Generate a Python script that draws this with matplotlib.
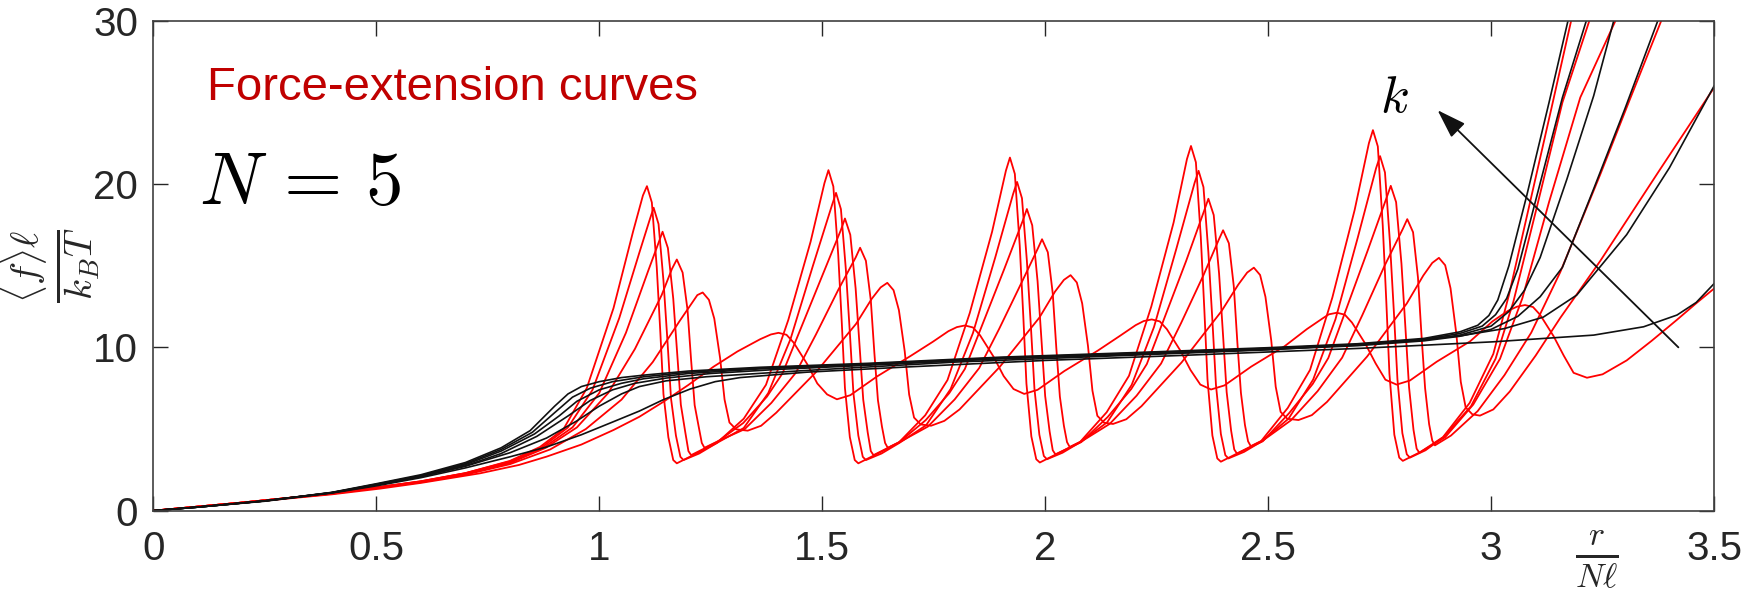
import numpy as np
import matplotlib
matplotlib.use('Agg')
import matplotlib.pyplot as plt

plt.rcParams['font.family'] = ['Liberation Sans', 'DejaVu Sans']
plt.rcParams['mathtext.fontset'] = 'cm'

# axis ticks
x_ticks = [0, 0.5, 1, 1.5, 2, 2.5, 3, 3.5]
x_tick_labels = ['0', '0.5', '1', '1.5', '2', '2.5', '3', '3.5']
y_ticks = [0, 10, 20, 30]
y_tick_labels = ['0', '10', '20', '30']

# red curves (sawtooth), stiffest k first: (r/Nl, <f>l/kBT)
red_k1 = [
    (0, 0), (0.2, 0.5), (0.4, 1.05), (0.6, 1.8), (0.7, 2.3), (0.8, 3.05), (0.867, 3.9), (0.92, 5.0),
    (0.972, 7.5), (1.032, 12.4), (1.076, 17.1), (1.098, 19.3), (1.107, 19.87),
    (1.118, 18.87), (1.129, 14.9), (1.137, 10.93), (1.144, 7.15), (1.155, 4.5), (1.166, 3.1), (1.174, 2.9),
    (1.214, 3.45), (1.264, 4.15), (1.324, 5.63), (1.374, 7.71), (1.424, 11.68), (1.474, 16.47), (1.505, 20.05), (1.514, 20.85),
    (1.525, 19.85), (1.536, 15.64), (1.544, 11.47), (1.551, 7.51), (1.562, 4.5), (1.573, 3.1), (1.581, 2.9),
    (1.621, 3.45), (1.671, 4.15), (1.731, 5.84), (1.781, 8.0), (1.831, 12.11), (1.881, 17.08), (1.912, 20.82), (1.921, 21.62),
    (1.932, 20.62), (1.943, 16.22), (1.951, 11.89), (1.958, 7.78), (1.969, 4.55), (1.980, 3.15), (1.988, 2.95),
    (2.028, 3.5), (2.078, 4.2), (2.138, 6.03), (2.188, 8.26), (2.238, 12.5), (2.288, 17.64), (2.318, 21.53), (2.327, 22.33),
    (2.338, 21.33), (2.349, 16.75), (2.357, 12.28), (2.364, 8.04), (2.375, 4.6), (2.386, 3.2), (2.394, 3.0),
    (2.434, 3.55), (2.484, 4.25), (2.544, 6.29), (2.594, 8.62), (2.644, 13.05), (2.694, 18.41), (2.726, 22.5), (2.735, 23.3),
    (2.746, 22.3), (2.757, 17.48), (2.765, 12.82), (2.772, 8.39), (2.783, 4.65), (2.794, 3.25), (2.802, 3.05),
    (2.842, 3.6), (2.892, 4.5), (2.952, 6.6), (3.005, 9.6), (3.04, 13.2), (3.09, 19.2), (3.135, 24.6), (3.182, 30.3),
]
red_k2 = [
    (0, 0), (0.2, 0.5), (0.4, 1.05), (0.6, 1.8), (0.7, 2.3), (0.8, 3.02), (0.87, 3.85), (0.93, 5.1),
    (0.985, 7.4), (1.045, 11.8), (1.09, 15.8), (1.113, 17.8), (1.122, 18.55),
    (1.133, 17.55), (1.144, 14.1), (1.153, 10.39), (1.161, 6.86), (1.172, 4.6), (1.182, 3.3), (1.189, 3.1),
    (1.224, 3.5), (1.264, 4.15), (1.324, 5.06), (1.379, 7.2), (1.429, 10.51), (1.479, 14.98), (1.522, 18.71), (1.531, 19.46),
    (1.542, 18.46), (1.553, 14.79), (1.562, 10.9), (1.570, 7.2), (1.581, 4.6), (1.591, 3.3), (1.598, 3.1),
    (1.633, 3.5), (1.673, 4.15), (1.733, 5.23), (1.788, 7.45), (1.838, 10.87), (1.888, 15.5), (1.928, 19.38), (1.937, 20.13),
    (1.948, 19.13), (1.959, 15.3), (1.968, 11.27), (1.976, 7.45), (1.987, 4.65), (1.997, 3.35), (2.004, 3.15),
    (2.039, 3.55), (2.079, 4.2), (2.139, 5.41), (2.194, 7.7), (2.244, 11.24), (2.294, 16.02), (2.335, 20.06), (2.344, 20.81),
    (2.355, 19.81), (2.366, 15.82), (2.375, 11.65), (2.383, 7.7), (2.394, 4.7), (2.404, 3.4), (2.411, 3.2),
    (2.446, 3.6), (2.486, 4.25), (2.546, 5.64), (2.601, 8.03), (2.651, 11.72), (2.701, 16.72), (2.742, 20.96), (2.751, 21.71),
    (2.762, 20.71), (2.773, 16.5), (2.782, 12.16), (2.790, 8.03), (2.801, 4.75), (2.811, 3.45), (2.818, 3.25),
    (2.853, 3.7), (2.893, 4.5), (2.955, 6.4), (3.01, 9.3), (3.05, 12.8), (3.10, 18.3), (3.16, 25.0), (3.224, 30.3),
]
red_k3 = [
    (0, 0), (0.2, 0.5), (0.4, 1.05), (0.6, 1.78), (0.7, 2.28), (0.8, 2.97), (0.875, 3.85), (0.94, 5.1),
    (1.0, 7.2), (1.06, 10.9), (1.11, 14.7), (1.133, 16.4), (1.142, 17.08),
    (1.154, 16.08), (1.166, 12.98), (1.175, 9.56), (1.183, 6.49), (1.193, 4.8), (1.200, 3.65), (1.206, 3.4),
    (1.264, 4.2), (1.323, 5.37), (1.376, 6.98), (1.411, 8.41), (1.451, 11.09), (1.499, 14.31), (1.542, 17.19), (1.551, 17.89),
    (1.563, 16.89), (1.575, 13.6), (1.584, 10.02), (1.592, 6.8), (1.602, 4.8), (1.609, 3.65), (1.615, 3.4),
    (1.673, 4.2), (1.732, 5.54), (1.785, 7.2), (1.82, 8.68), (1.86, 11.45), (1.908, 14.78), (1.950, 17.77), (1.959, 18.47),
    (1.971, 17.47), (1.983, 14.04), (1.992, 10.34), (2.000, 7.02), (2.010, 4.85), (2.017, 3.7), (2.023, 3.45),
    (2.081, 4.2), (2.14, 5.73), (2.193, 7.45), (2.228, 8.98), (2.268, 11.84), (2.316, 15.28), (2.357, 18.4), (2.366, 19.1),
    (2.378, 18.1), (2.390, 14.52), (2.399, 10.7), (2.407, 7.26), (2.417, 4.9), (2.424, 3.75), (2.430, 3.5),
    (2.488, 4.25), (2.547, 5.97), (2.60, 7.76), (2.635, 9.35), (2.675, 12.33), (2.723, 15.91), (2.766, 19.19), (2.775, 19.89),
    (2.787, 18.89), (2.799, 15.12), (2.808, 11.14), (2.816, 7.56), (2.826, 4.95), (2.833, 3.8), (2.839, 3.55),
    (2.897, 4.5), (2.96, 6.5), (3.02, 9.3), (3.07, 13.0), (3.13, 18.9), (3.20, 25.3), (3.284, 30.3),
]
red_k4 = [
    (0, 0), (0.2, 0.5), (0.4, 1.04), (0.6, 1.76), (0.7, 2.25), (0.8, 2.92), (0.88, 3.85), (0.95, 5.1),
    (1.02, 7.2), (1.08, 9.9), (1.14, 13.2), (1.163, 14.8), (1.174, 15.38),
    (1.187, 14.58), (1.198, 12.3), (1.206, 9.23), (1.214, 6.46), (1.223, 5.15), (1.230, 4.15), (1.236, 3.85),
    (1.266, 4.25), (1.326, 4.99), (1.386, 6.6), (1.441, 8.45), (1.486, 10.79), (1.536, 13.52), (1.575, 15.5), (1.585, 16.10),
    (1.598, 15.3), (1.609, 12.88), (1.617, 9.66), (1.625, 6.76), (1.634, 5.15), (1.641, 4.15), (1.647, 3.85),
    (1.677, 4.25), (1.737, 5.15), (1.797, 6.81), (1.852, 8.73), (1.897, 11.14), (1.947, 13.96), (1.983, 16.02), (1.993, 16.62),
    (2.006, 15.82), (2.017, 13.3), (2.025, 9.97), (2.033, 6.98), (2.042, 5.2), (2.049, 4.2), (2.055, 3.9),
    (2.085, 4.3), (2.145, 5.32), (2.205, 7.04), (2.26, 9.01), (2.305, 11.5), (2.355, 14.42), (2.389, 16.57), (2.399, 17.17),
    (2.412, 16.37), (2.423, 13.74), (2.431, 10.3), (2.439, 7.21), (2.448, 5.25), (2.455, 4.25), (2.461, 3.95),
    (2.491, 4.35), (2.551, 5.53), (2.611, 7.32), (2.666, 9.37), (2.711, 11.96), (2.761, 14.99), (2.802, 17.25), (2.812, 17.85),
    (2.825, 17.05), (2.836, 14.28), (2.844, 10.71), (2.852, 7.5), (2.861, 5.3), (2.868, 4.3), (2.874, 4.0),
    (2.91, 4.6), (2.97, 6.1), (3.03, 8.3), (3.09, 10.9), (3.155, 14.6), (3.245, 20.6), (3.31, 25.1), (3.386, 30.3),
]
red_k5 = [
    (0, 0), (0.2, 0.5), (0.4, 1.03), (0.6, 1.74), (0.7, 2.2), (0.8, 2.85), (0.89, 3.75), (0.97, 5.0),
    (1.05, 6.8), (1.12, 9.1), (1.18, 11.6), (1.205, 12.6), (1.22, 13.2), (1.232, 13.36),
    (1.246, 12.91), (1.258, 11.76), (1.271, 9.35), (1.281, 6.81), (1.292, 5.4), (1.307, 4.98), (1.333, 4.9),
    (1.363, 5.2), (1.397, 6.0), (1.487, 8.51), (1.576, 11.44), (1.611, 12.97), (1.631, 13.67), (1.646, 13.95),
    (1.660, 13.5), (1.672, 12.28), (1.685, 9.77), (1.695, 7.11), (1.706, 5.7), (1.721, 5.28), (1.744, 5.2),
    (1.774, 5.5), (1.808, 6.2), (1.898, 8.8), (1.987, 11.82), (2.022, 13.41), (2.042, 14.13), (2.057, 14.42),
    (2.071, 13.97), (2.083, 12.69), (2.096, 10.09), (2.106, 7.35), (2.117, 5.81), (2.132, 5.39), (2.152, 5.31),
    (2.182, 5.6), (2.216, 6.4), (2.306, 9.08), (2.395, 12.2), (2.433, 13.84), (2.453, 14.58), (2.468, 14.88),
    (2.482, 14.43), (2.494, 13.09), (2.507, 10.42), (2.517, 7.59), (2.528, 6.05), (2.543, 5.63), (2.568, 5.55),
    (2.598, 5.85), (2.632, 6.66), (2.722, 9.44), (2.811, 12.69), (2.848, 14.4), (2.868, 15.17), (2.883, 15.48),
    (2.897, 15.03), (2.909, 13.62), (2.922, 10.84), (2.932, 7.89), (2.943, 6.32), (2.958, 5.9), (2.975, 5.82),
    (3.005, 6.2), (3.042, 7.3), (3.10, 9.5), (3.155, 11.8), (3.245, 15.3), (3.379, 20.9), (3.5, 25.9),
]
red_k6 = [
    (0, 0), (0.2, 0.48), (0.4, 1.0), (0.508, 1.35), (0.6, 1.7), (0.733, 2.29), (0.82, 2.8), (0.882, 3.31),
    (0.96, 4.05), (1.032, 4.94), (1.09, 5.75), (1.144, 6.67), (1.2, 7.7), (1.256, 8.81), (1.31, 9.75),
    (1.361, 10.5), (1.385, 10.79), (1.402, 10.89),
    (1.42, 10.77), (1.436, 10.29), (1.466, 8.99), (1.489, 7.79), (1.511, 7.12), (1.533, 6.82),
    (1.563, 7.07), (1.623, 8.22), (1.698, 9.47), (1.748, 10.34), (1.783, 10.99), (1.802, 11.24), (1.820, 11.34),
    (1.838, 11.22), (1.854, 10.74), (1.884, 9.44), (1.907, 8.24), (1.929, 7.45), (1.953, 7.15),
    (1.983, 7.4), (2.043, 8.55), (2.118, 9.8), (2.168, 10.71), (2.203, 11.36), (2.221, 11.61), (2.239, 11.71),
    (2.257, 11.59), (2.273, 11.11), (2.303, 9.81), (2.326, 8.61), (2.348, 7.72), (2.372, 7.42),
    (2.402, 7.67), (2.462, 8.82), (2.537, 10.07), (2.587, 11.12), (2.622, 11.77), (2.636, 12.02), (2.654, 12.12),
    (2.672, 12.0), (2.688, 11.52), (2.718, 10.22), (2.741, 9.02), (2.763, 8.02), (2.788, 7.72),
    (2.818, 7.97), (2.878, 9.12), (2.953, 10.37), (3.003, 11.59), (3.038, 12.24), (3.058, 12.49), (3.076, 12.59),
    (3.094, 12.47), (3.11, 11.99), (3.14, 10.69), (3.163, 9.49), (3.185, 8.44), (3.215, 8.14),
    (3.25, 8.35), (3.304, 9.2), (3.36, 10.4), (3.416, 11.67), (3.46, 12.7), (3.5, 13.6),
]

# black curves (smooth), same k order
black_k1 = [
    (0, 0), (0.1, 0.22), (0.25, 0.6), (0.4, 1.12), (0.5, 1.65), (0.6, 2.2), (0.7, 2.95), (0.78, 3.85),
    (0.845, 4.9), (0.9, 6.4), (0.93, 7.15), (0.96, 7.6), (1.0, 7.9), (1.05, 8.15), (1.1, 8.3), (1.2, 8.55),
    (1.36, 8.78), (1.6, 9.02), (1.9, 9.4), (2.2, 9.68), (2.5, 9.98), (2.7, 10.22), (2.85, 10.55), (2.93, 10.95),
    (2.97, 11.35), (2.995, 11.95), (3.015, 12.9), (3.04, 15.0), (3.08, 19.3), (3.13, 25.0), (3.175, 30.3),
]
black_k2 = [
    (0, 0), (0.1, 0.22), (0.25, 0.6), (0.4, 1.11), (0.5, 1.62), (0.6, 2.15), (0.7, 2.88), (0.78, 3.75),
    (0.85, 4.8), (0.9, 6.0), (0.94, 6.95), (0.98, 7.5), (1.03, 7.9), (1.1, 8.2), (1.2, 8.48), (1.36, 8.73),
    (1.6, 8.98), (1.9, 9.36), (2.2, 9.64), (2.5, 9.94), (2.7, 10.18), (2.85, 10.5), (2.93, 10.85), (2.98, 11.3),
    (3.01, 12.0), (3.035, 13.0), (3.06, 14.8), (3.10, 19.0), (3.16, 25.3), (3.217, 30.3),
]
black_k3 = [
    (0, 0), (0.1, 0.22), (0.25, 0.6), (0.4, 1.1), (0.5, 1.6), (0.6, 2.12), (0.7, 2.82), (0.78, 3.65),
    (0.855, 4.7), (0.91, 5.8), (0.95, 6.7), (1.0, 7.4), (1.05, 7.8), (1.1, 8.08), (1.2, 8.4), (1.36, 8.68),
    (1.6, 8.95), (1.9, 9.33), (2.2, 9.6), (2.5, 9.9), (2.7, 10.14), (2.85, 10.45), (2.93, 10.75), (3.0, 11.3),
    (3.04, 12.2), (3.075, 13.5), (3.11, 15.5), (3.17, 20.3), (3.23, 25.4), (3.278, 30.3),
]
black_k4 = [
    (0, 0), (0.1, 0.22), (0.25, 0.6), (0.4, 1.1), (0.5, 1.58), (0.6, 2.1), (0.7, 2.75), (0.78, 3.5),
    (0.86, 4.55), (0.93, 5.8), (0.98, 6.75), (1.03, 7.4), (1.08, 7.8), (1.15, 8.12), (1.25, 8.4), (1.4, 8.65),
    (1.6, 8.9), (1.9, 9.3), (2.2, 9.57), (2.5, 9.87), (2.7, 10.1), (2.85, 10.4), (2.93, 10.68), (3.0, 11.1),
    (3.06, 11.9), (3.11, 13.1), (3.16, 14.9), (3.23, 19.7), (3.30, 24.6), (3.378, 30.3),
]
black_k5 = [
    (0, 0), (0.1, 0.22), (0.25, 0.6), (0.4, 1.1), (0.5, 1.56), (0.6, 2.08), (0.7, 2.72), (0.8, 3.55),
    (0.882, 4.45), (0.95, 5.5), (1.0, 6.4), (1.05, 7.15), (1.09, 7.6), (1.15, 7.95), (1.24, 8.2), (1.46, 8.58),
    (1.8, 9.1), (2.1, 9.42), (2.5, 9.85), (2.75, 10.25), (2.93, 10.7), (3.03, 11.15), (3.117, 11.85),
    (3.192, 13.2), (3.304, 16.9), (3.4, 21.0), (3.5, 26.0),
]
black_k6 = [
    (0, 0), (0.1, 0.22), (0.25, 0.58), (0.4, 1.08), (0.5, 1.52), (0.6, 2.02), (0.7, 2.62), (0.8, 3.3),
    (0.882, 3.9), (0.96, 4.65), (1.032, 5.45), (1.09, 6.1), (1.144, 6.8), (1.204, 7.45), (1.26, 7.9),
    (1.316, 8.15), (1.465, 8.48), (1.69, 8.8), (2.0, 9.2), (2.3, 9.5), (2.706, 9.94), (3.005, 10.34),
    (3.23, 10.75), (3.342, 11.26), (3.417, 11.98), (3.46, 12.75), (3.5, 13.9),
]

red_curves = [red_k1, red_k2, red_k3, red_k4, red_k5, red_k6]
black_curves = [black_k1, black_k2, black_k3, black_k4, black_k5, black_k6]

fig = plt.figure(figsize=(17.6, 5.93), dpi=100)
ax = fig.add_axes([0.0871, 0.1388, 0.8868, 0.8263])

for pts in red_curves:
    a = np.array(pts)
    ax.plot(a[:, 0], a[:, 1], color='#ff0000', lw=1.3, solid_joinstyle='round')
for pts in black_curves:
    a = np.array(pts)
    ax.plot(a[:, 0], a[:, 1], color='#111111', lw=1.2, solid_joinstyle='round')

ax.set_xlim(0, 3.5)
ax.set_ylim(0, 30)
ax.set_xticks(x_ticks)
ax.set_xticklabels(x_tick_labels)
ax.set_yticks(y_ticks)
ax.set_yticklabels(y_tick_labels)
ax.tick_params(direction='in', length=11, width=1.0, top=True, right=True,
               labelsize=29, colors='#262626')
ax.tick_params(axis='x', pad=14)
ax.tick_params(axis='y', pad=11)
for s in ax.spines.values():
    s.set_color('#404040')
    s.set_linewidth(1.2)

# labels
fig.text(50 / 1760, 1 - 265 / 593, r'$\frac{\langle f\rangle\ell}{k_BT}$',
         rotation=90, ha='center', va='center', fontsize=40, color='#262626')
fig.text(1597 / 1760, 1 - 560 / 593, r'$\frac{r}{N\ell}$',
         ha='center', va='center', fontsize=35, color='#262626')

ax.text(0.12, 25.13, 'Force-extension curves', color='#c00000', fontsize=34,
        ha='left', va='baseline')
ax.text(0.1025, 18.77, r'$N\,=\,5$', fontsize=54, ha='left', va='baseline', color='black')

# arrow showing increasing k
ax.annotate('', xy=(2.88, 24.52), xytext=(3.42, 10.0),
            arrowprops=dict(arrowstyle='-|>,head_length=0.9,head_width=0.3',
                            mutation_scale=20, color='#111111', lw=1.3,
                            shrinkA=0, shrinkB=0))
ax.text(2.782, 25.26, r'$k$', fontsize=38, ha='center', va='center')

fig.savefig('out.png', dpi=100)
